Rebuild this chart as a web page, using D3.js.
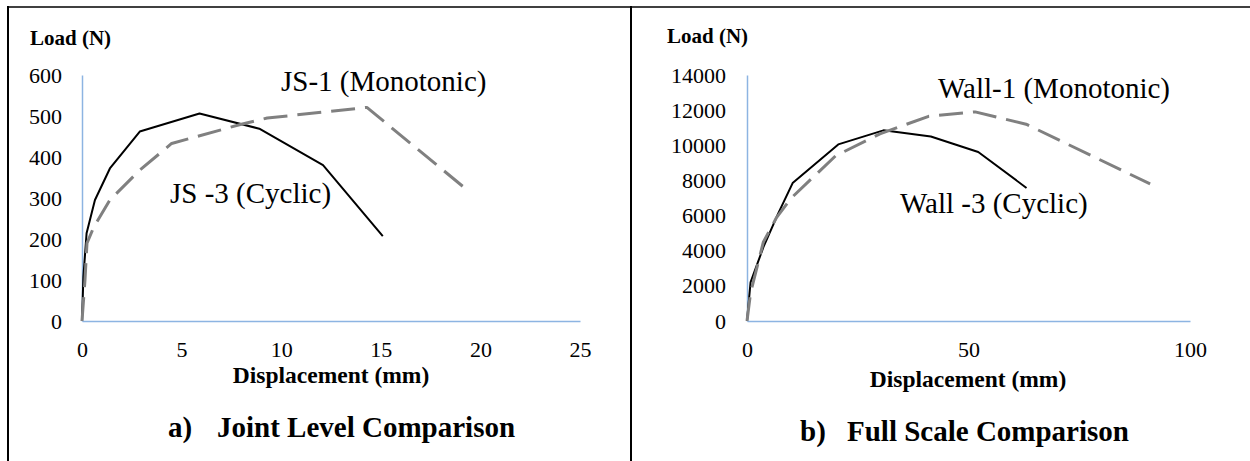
<!DOCTYPE html>
<html>
<head>
<meta charset="utf-8">
<script src="https://cdn.jsdelivr.net/npm/d3@7"></script>
<style>
  html, body { margin: 0; padding: 0; background: #fff; }
  svg { display: block; }
  text { font-family: "Times New Roman", "Liberation Serif", serif; fill: #000; }
</style>
</head>
<body>
<svg id="chart" width="1250" height="461"></svg>
<script>
// ---------- Data ----------
// Panel a) Joint level
const jsMonoDisp = [0, 0.15, 0.25, 0.6, 1.4, 2.9, 4.5, 8, 9.3, 14.3, 19.2];
const jsMonoLoad = [0, 100, 190, 230, 295, 368, 433, 480, 495, 521, 325];
const jsCycDisp  = [0, 0.07, 0.23, 0.65, 1.4, 2.9, 5.9, 8.9, 12.1, 15.1];
const jsCycLoad  = [0, 108, 214, 295, 372, 462, 506, 469, 380, 207];
const jsXTicks = [0, 5, 10, 15, 20, 25];
const jsYTicks = [0, 100, 200, 300, 400, 500, 600];

// Panel b) Full scale
const wallMonoDisp = [0, 0.8, 3.7, 6.7, 10, 20, 30, 41, 51.5, 63, 91];
const wallMonoLoad = [0, 1600, 4500, 5900, 7000, 9400, 10650, 11650, 11900, 11200, 7800];
const wallCycDisp  = [0, 0.8, 3.7, 7.0, 10.3, 20.6, 30.8, 41.5, 52.2, 63.1];
const wallCycLoad  = [0, 2200, 4200, 6100, 7850, 10050, 10850, 10500, 9620, 7570];
const wallXTicks = [0, 50, 100];
const wallYTicks = [0, 2000, 4000, 6000, 8000, 10000, 12000, 14000];

const svg = d3.select("#chart");
const AXIS_COLOR = "#8db4e2";
const SERIF = "Times New Roman, Liberation Serif, serif";

// ---------- Frame (table borders) ----------
svg.append("line").attr("x1", 8).attr("x2", 1250).attr("y1", 7).attr("y2", 7)
  .attr("stroke", "#000").attr("stroke-width", 1.5);
svg.append("line").attr("x1", 8).attr("x2", 8).attr("y1", 6).attr("y2", 461)
  .attr("stroke", "#000").attr("stroke-width", 2);
svg.append("line").attr("x1", 631).attr("x2", 631).attr("y1", 6).attr("y2", 461)
  .attr("stroke", "#000").attr("stroke-width", 2);

function panel(cfg) {
  const x = d3.scaleLinear().domain(cfg.xDomain).range(cfg.xRange);
  const y = d3.scaleLinear().domain(cfg.yDomain).range([321, 75]);
  const g = svg.append("g");

  // y axis
  const ya = g.append("g").attr("transform", `translate(${cfg.xRange[0]},0)`)
    .call(d3.axisLeft(y).tickValues(cfg.yTicks).tickSize(0).tickPadding(cfg.yPad).tickFormat(d3.format("d")));
  ya.attr("font-family", SERIF);
  ya.select(".domain").attr("stroke", AXIS_COLOR).attr("stroke-width", 1.5);
  ya.selectAll("text").attr("font-size", 22);

  // x axis
  const xa = g.append("g").attr("transform", `translate(0,321)`)
    .call(d3.axisBottom(x).tickValues(cfg.xTicks).tickSize(0).tickPadding(20).tickFormat(d3.format("d")));
  xa.attr("font-family", SERIF);
  xa.select(".domain").attr("stroke", AXIS_COLOR).attr("stroke-width", 1.5);
  xa.selectAll("text").attr("font-size", 22);

  const line = d3.line().x(d => x(d[0])).y(d => y(d[1]));

  g.append("path").datum(d3.zip(cfg.cycX, cfg.cycY)).attr("d", line)
    .attr("fill", "none").attr("stroke", "#000").attr("stroke-width", 2)
    .attr("stroke-linejoin", "round");
  g.append("path").datum(d3.zip(cfg.monoX, cfg.monoY)).attr("d", line)
    .attr("fill", "none").attr("stroke", "#808080").attr("stroke-width", 3)
    .attr("stroke-dasharray", "24,10").attr("stroke-linejoin", "round");

  // Y axis title
  g.append("text").attr("x", cfg.loadX).attr("y", cfg.loadY)
    .attr("font-size", 21).attr("font-weight", "bold").text("Load (N)");
  // X axis title
  g.append("text").attr("x", cfg.dispX).attr("y", cfg.dispY).attr("text-anchor", "middle")
    .attr("font-size", 23.5).attr("font-weight", "bold").text("Displacement (mm)");
  // Caption
  g.append("text").attr("x", cfg.capLetterX).attr("y", cfg.capY)
    .attr("font-size", 29).attr("font-weight", "bold").text(cfg.capLetter);
  g.append("text").attr("x", cfg.capTextX).attr("y", cfg.capY)
    .attr("font-size", 29).attr("font-weight", "bold").text(cfg.capText);
  // Annotations
  g.append("text").attr("x", cfg.monoLblX).attr("y", cfg.monoLblY)
    .attr("font-size", 29).text(cfg.monoLbl);
  g.append("text").attr("x", cfg.cycLblX).attr("y", cfg.cycLblY)
    .attr("font-size", 29).text(cfg.cycLbl);
}

panel({
  xDomain: [0, 25], xRange: [82, 580], yDomain: [0, 600],
  xTicks: jsXTicks, yTicks: jsYTicks, yPad: 20,
  monoX: jsMonoDisp, monoY: jsMonoLoad, cycX: jsCycDisp, cycY: jsCycLoad,
  loadX: 30, loadY: 45, dispX: 331, dispY: 383,
  capLetter: "a)", capLetterX: 168, capText: "Joint Level Comparison", capTextX: 217, capY: 437,
  monoLbl: "JS-1 (Monotonic)", monoLblX: 281, monoLblY: 91,
  cycLbl: "JS -3 (Cyclic)", cycLblX: 170, cycLblY: 203
});

panel({
  xDomain: [0, 100], xRange: [747, 1190], yDomain: [0, 14000],
  xTicks: wallXTicks, yTicks: wallYTicks, yPad: 21,
  monoX: wallMonoDisp, monoY: wallMonoLoad, cycX: wallCycDisp, cycY: wallCycLoad,
  loadX: 667, loadY: 43, dispX: 968, dispY: 387,
  capLetter: "b)", capLetterX: 800, capText: "Full Scale Comparison", capTextX: 847, capY: 441,
  monoLbl: "Wall-1 (Monotonic)", monoLblX: 938, monoLblY: 98,
  cycLbl: "Wall -3 (Cyclic)", cycLblX: 900, cycLblY: 213
});
</script>
</body>
</html>
